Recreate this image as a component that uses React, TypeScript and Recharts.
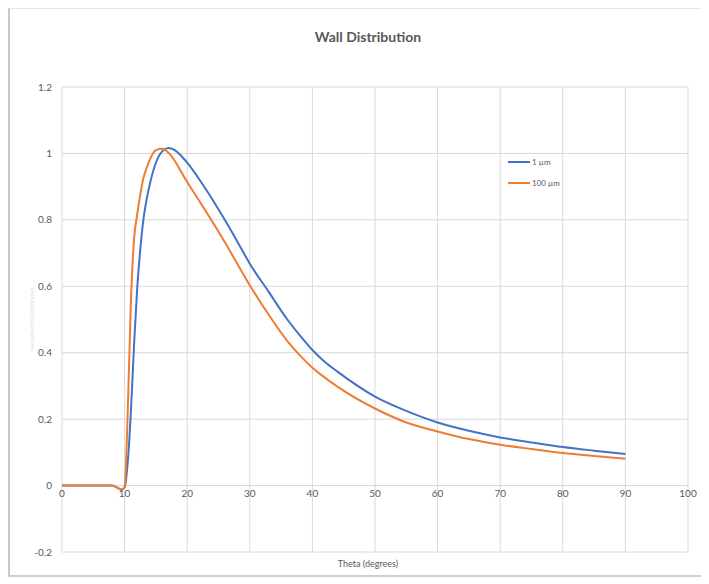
import React from 'react';
import { LineChart, Line, CartesianGrid, XAxis, YAxis, ReferenceLine } from 'recharts';

const theta = [0, 2, 4, 6, 8, 9, 9.5, 10, 10.5, 11, 11.5, 12, 12.5, 13, 13.5, 14, 15, 16, 17, 18, 19, 20, 22, 24, 26, 28, 30, 33, 36, 38, 40, 42, 44, 50, 55, 60, 65, 70, 75, 80, 85, 90];
const oneMicron = [0, 0, 0, 0, 0, -0.008, -0.012, -0.005, 0.07, 0.22, 0.42, 0.59, 0.71, 0.8, 0.86, 0.905, 0.972, 1.006, 1.016, 1.01, 0.994, 0.972, 0.92, 0.862, 0.8, 0.735, 0.668, 0.584, 0.5, 0.452, 0.408, 0.372, 0.343, 0.268, 0.225, 0.19, 0.165, 0.145, 0.13, 0.116, 0.105, 0.095];
const hundredMicron = [0, 0, 0, 0, 0, -0.008, -0.012, -0.005, 0.22, 0.55, 0.74, 0.815, 0.875, 0.925, 0.955, 0.98, 1.01, 1.014, 1.002, 0.978, 0.946, 0.914, 0.855, 0.795, 0.733, 0.668, 0.603, 0.515, 0.435, 0.392, 0.355, 0.325, 0.298, 0.232, 0.19, 0.163, 0.14, 0.123, 0.11, 0.098, 0.089, 0.081];

const xTicks = [0, 10, 20, 30, 40, 50, 60, 70, 80, 90, 100];
const yTicks = [-0.2, 0, 0.2, 0.4, 0.6, 0.8, 1, 1.2];

const series = [
  { key: 'a', name: '1 µm', color: '#4472C4' },
  { key: 'b', name: '100 µm', color: '#ED7D31' },
];

const W = 701;
const H = 569;
const CW = W - 2;
const CH = H - 3;
const margin = { top: 78, right: 21, bottom: 22, left: 12 };
const plotH = CH - margin.top - margin.bottom;
// x labels sit on the y=0 line, like Excel does
const zeroShift = (plotH * (0 - yTicks[0])) / (yTicks[yTicks.length - 1] - yTicks[0]);

const font = 'Lato, "Open Sans", sans-serif';
const grey = '#595959';

const data = theta.map((t, i) => ({ t, a: oneMicron[i], b: hundredMicron[i] }));

const XTick = (props: any) => {
  const { x, y, payload } = props;
  return (
    <text x={x} y={y - zeroShift + 4} textAnchor="middle" fill={grey} fontSize={10} fontFamily={font}>
      {payload.value}
    </text>
  );
};

const App: React.FC = () => (
  <div
    style={{
      position: 'relative',
      width: W,
      height: H,
      background: '#fff',
      borderLeft: '2px solid #c8c8c8',
      borderBottom: '2px solid #cfcfcf',
      borderTop: '1px solid #e6e6e6',
      boxShadow: '-2px 2px 4px 0px rgba(0,0,0,0.25)',
      fontFamily: font,
      boxSizing: 'border-box',
    }}
  >
    <div
      style={{
        position: 'absolute',
        top: 19,
        left: 0,
        width: 716,
        textAlign: 'center',
        fontSize: 14,
        fontWeight: 700,
        color: grey,
      }}
    >
      Wall Distribution
    </div>
    <div
      style={{
        position: 'absolute',
        top: 549,
        left: 0,
        width: 716,
        textAlign: 'center',
        fontSize: 9,
        color: grey,
      }}
    >
      Theta (degrees)
    </div>
    <div style={{ position: 'absolute', left: 498, top: 142, fontSize: 8, color: grey }}>
      {series.map(s => (
        <div key={s.key} style={{ display: 'flex', alignItems: 'center', height: 21 }}>
          <div style={{ width: 22, height: 2, background: s.color, marginRight: 2 }} />
          <span>{s.name}</span>
        </div>
      ))}
    </div>
    <LineChart width={CW} height={CH} data={data} margin={margin} style={{ position: 'absolute', left: 0, top: 0 }}>
      <CartesianGrid stroke="#d9d9d9" strokeWidth={1} />
      <XAxis
        dataKey="t"
        type="number"
        domain={[0, 100]}
        ticks={xTicks}
        axisLine={false}
        tickLine={false}
        tick={<XTick />}
        height={1}
        interval={0}
      />
      <YAxis
        type="number"
        domain={[-0.2, 1.2]}
        ticks={yTicks}
        axisLine={false}
        tickLine={false}
        width={40}
        tickMargin={4}
        interval={0}
        tick={{ fill: grey, fontSize: 10, fontFamily: font }}
        tickFormatter={(v: number) => String(Math.round(v * 10) / 10)}
        label={{
          value: 'Normalized Wall Distribution',
          angle: -90,
          position: 'insideLeft',
          offset: 10,
          style: { fill: '#e0e0e0', fontSize: 5, textAnchor: 'middle' },
        }}
      />
      <ReferenceLine y={0} stroke="#d9d9d9" />
      {series.map(s => (
        <Line
          key={s.key}
          type="monotone"
          dataKey={s.key}
          name={s.name}
          stroke={s.color}
          strokeWidth={2}
          dot={false}
          isAnimationActive={false}
        />
      ))}
    </LineChart>
  </div>
);

export default App;
